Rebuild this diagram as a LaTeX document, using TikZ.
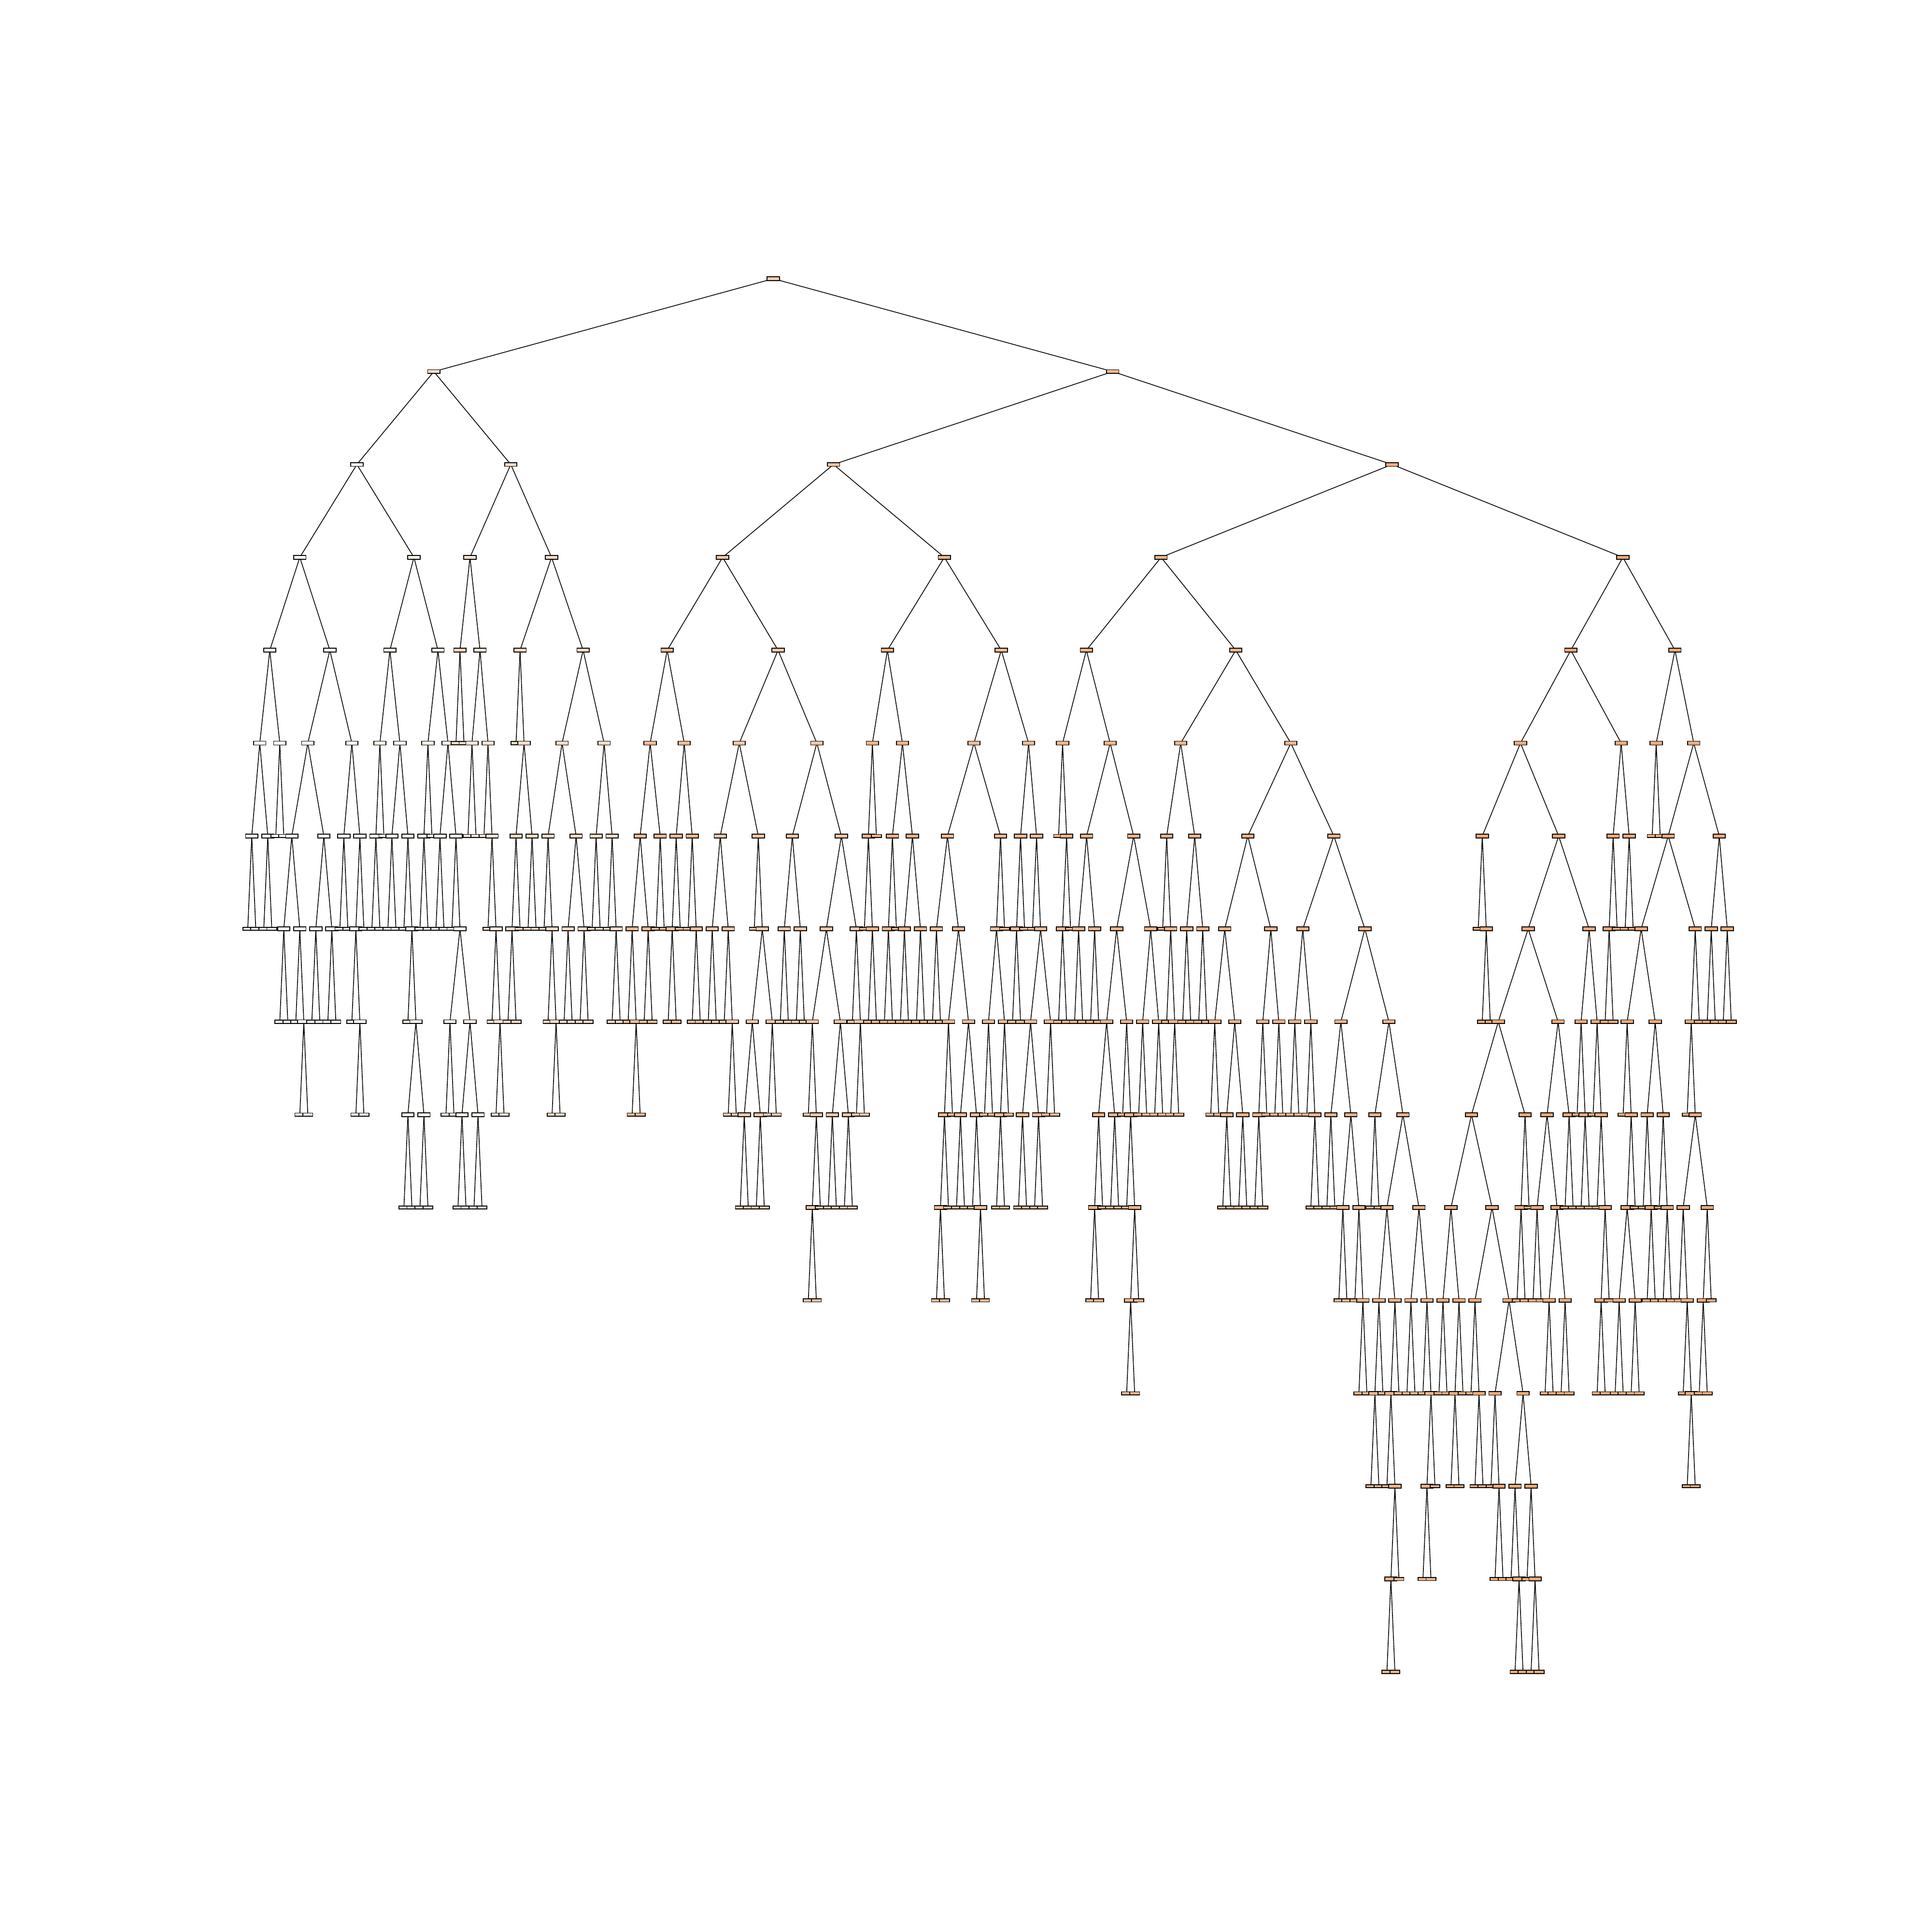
\documentclass[tikz,border=0pt]{standalone}
\usepackage{tikz}
\usepackage{forest}
\usetikzlibrary{calc}
\definecolor{skorange}{RGB}{229,129,57}
\tikzset{
splitbox/.style={draw=black, line width=0.5pt, inner sep=0pt, minimum width=2.55mm, minimum height=0.78mm}, % nodes with a split
leafbox/.style={draw=black, line width=0.5pt, inner sep=0pt, minimum width=2.05mm, minimum height=0.64mm}, % leaves
tone/.style={fill=skorange!#1!white}, % mean value as colour
}
\forestset{
paint/.style={for tree={if n children=0{tikz={\node[leafbox,tone=#1] at (.center) {};}}{tikz={\node[splitbox,tone=#1] at (.center) {};}}}},
}
\begin{document}
\begin{tikzpicture}
\begin{forest}
begin draw/.code={}, end draw/.code={},
for tree={inner sep=0pt, outer sep=0pt, minimum size=0.2mm, anchor=center,
  parent anchor=center, child anchor=center, calign=midpoint,
  l=19.23mm, l sep=0pt, s sep=1.458mm, ignore edge,
  edge={line width=0.45pt}},
[,name=top, paint=42
 % left of the root
 [,paint=25
  [,paint=8
   [,paint=5
    [ [ [[][]] [[][]] ] [[][]] ]
    [ [ [ [[][]] [ [] [[][]] ] ] [ [[][]] [[][]] ] ]
      [ [[][]] [ [ [] [[][]] ] [] ] ] ]
   ]
   [,paint=12
    [ [ [[][]] [] ] [ [[][]] [ [] [ [] [ [[][]] [[][]] ] ] ] ] ]
    [ [ [[][]] [] ] [ [[][]] [ [] [ [[][]] [ [[][]] [[][]] ] ] ] ] ]
   ]
  ]
  [,paint=26
   [,paint=22
    [,paint=32 [][] ]
    [ [[][]] [ [] [ [] [ [] [[][]] ] ] ] ]
   ]
   [,paint=30
    [ [] [ [ [[][]] [] ] [[][]] ] ]
    [ [ [ [] [ [] [[][]] ] ] [ [[][]] [[][]] ] ] [ [[][]] [ [] [[][]] ] ] ]
   ]
  ]
 ]
 % right of the root
 [,paint=55
  [,paint=48
   [,paint=45
    [,paint=55
     [ [ [ [] [[][]] ] [[][]] ] [[][]] ]
     [ [ [[][]] [] ] [ [] [[][]] ] ]
    ]
    [,paint=45
     [ [ [[][]] [ [] [[][]] ] ] [ [] [ [ [[][]] [[][]] ] [[][]] ] ] ]
     [ [ [[][]] [[][]] ]
       [ [ [ [] [ [[][]] [] ] ] [ [[][]] [[][]] ] ] [ [] [[][]] ] ] ]
    ]
   ]
   [,paint=58
    [,paint=62
     [ [ [] [[][]] ] [] ]
     [ [ [[][]] [] ] [ [[][]] [[][]] ] ]
    ]
    [,paint=55
     [ [ [[][]] [ [ [ [[][]] [] ] [] ] [ [[][]] [ [] [[][]] ] ] ] ]
       [ [ [[][]] [ [[][]] [] ] ] [] ] ]
     [ [ [[][]] [] ] [ [] [ [ [[][]] [[][]] ] [[][]] ] ] ]
    ]
   ]
  ]
  [,paint=62
   [,paint=60
    [
     [ [] [ [[][]] [] ] ]
     [ [ [[][]] [[][]] ]
       [ [ [ [ [[][]] [] ] [[][]] ] [ [] [ [] [ [[][]] [] ] ] ] ]
         [ [[][]] [[][]] ] ] ]
    ]
    [
     [ [ [] [ [] [[][]] ] ] [ [[][]] [[][]] ] ]
     [
      [ [ [[][]] [ [[][]] [[][]] ] ] [ [ [[][]] [] ] [[][]] ] ]
      [ [ [[][]] [ [] [[][]] ] ]
        [ [ [[][]] [ [[][]] [ [] [[][]] ] ] ]
          [ [[][]]
            [ [ [ [[][]] [] ] [ [ [] [ [[][]] [] ] ] [] ] ]
              [ [[][]] [ [] [ [[][]] [] ] ] ] ] ] ] ]
     ]
    ]
   ]
   [,paint=68
    [
     [ [ [] [[][]] ]
       [ [ [ [ [ [[][]] [ [[][]] [] ] ]
               [ [ [] [[][]] ] [ [ [] [[][]] ] [ [ [] [[][]] ] [ [] [[][]] ] ] ] ] ]
             [ [[][]] [] ] ]
           [ [ [[][]] [ [[][]] [[][]] ] ] [[][]] ] ]
         [ [ [] [[][]] ] [ [] [ [] [ [[][]] [] ] ] ] ] ] ]
     [ [ [[][]] [] ] [[][]] ]
    ]
    [
     [[][]]
     [ [ [ [ [] [ [ [[][]] [[][]] ] [] ] ] [ [ [] [[][]] ] [ [] [[][]] ] ] ]
         [ [ [] [ [ [] [ [] [[][]] ] ] [ [[][]] [] ] ] ] [] ] ]
       [ [[][]] [[][]] ] ]
    ]
   ]
  ]
 ]
]
\end{forest}
\useasboundingbox ($(top)+(-16.01,-34.23)$) rectangle ($(top)+(23.99,5.77)$);
\end{tikzpicture}
\end{document}
